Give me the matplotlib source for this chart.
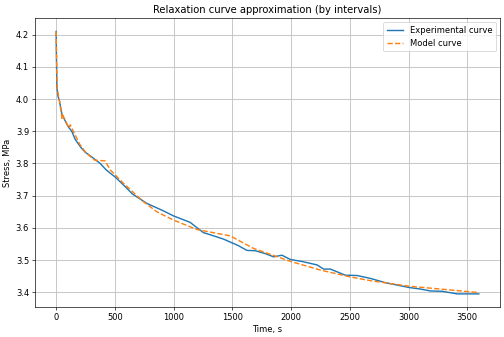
import matplotlib
matplotlib.use("Agg")
import matplotlib.pyplot as plt

exp_t = [0, 3, 6, 15, 28, 48, 80, 105, 133, 162, 181, 210, 247, 304, 375, 426, 460,
         502, 574, 650, 772, 900, 1000, 1141, 1200, 1255, 1300, 1425, 1550, 1624,
         1695, 1780, 1851, 1922, 1993, 2100, 2220, 2277, 2334, 2462, 2561, 2675,
         2800, 3001, 3100, 3186, 3285, 3413, 3598]
exp_s = [4.21, 4.12, 4.04, 4.01, 3.995, 3.955, 3.93, 3.913, 3.9, 3.875, 3.865, 3.85,
         3.835, 3.82, 3.80, 3.78, 3.77, 3.758, 3.733, 3.705, 3.676, 3.655, 3.637,
         3.617, 3.60, 3.585, 3.58, 3.565, 3.545, 3.53, 3.529, 3.52, 3.51, 3.515,
         3.502, 3.495, 3.485, 3.472, 3.472, 3.453, 3.452, 3.443, 3.43, 3.415, 3.41,
         3.404, 3.403, 3.395, 3.395]

mod_t = [0, 5, 10, 30, 50, 55, 110, 120, 200, 250, 296, 330, 417, 460, 574, 744,
         857, 1000, 1198, 1482, 1681, 2002, 2249, 2498, 2675, 3001, 3598]
mod_s = [4.21, 4.10, 4.03, 3.99, 3.94, 3.95, 3.91, 3.92, 3.86, 3.835, 3.82, 3.81,
         3.808, 3.78, 3.738, 3.681, 3.65, 3.624, 3.595, 3.575, 3.536, 3.495, 3.469,
         3.448, 3.436, 3.419, 3.399]

fig = plt.figure(figsize=(8.4, 337/60), dpi=60)
ax = fig.add_axes([35/504, 1-307/337, (500-35)/504, (307-18.3)/337])
ax.plot(exp_t, exp_s, color="#1f77b4", linewidth=1.7, label="Experimental curve")
ax.plot(mod_t, mod_s, color="#ff7f0e", linestyle="--", linewidth=1.7, label="Model curve")
ax.set_title("Relaxation curve approximation (by intervals)")
ax.set_xlabel("Time, s")
ax.set_ylabel("Stress, MPa")
ax.grid(True, color="#c4c4c4", linewidth=1.1)
ax.legend(loc="upper right")
fig.savefig("out.png", dpi=60)
